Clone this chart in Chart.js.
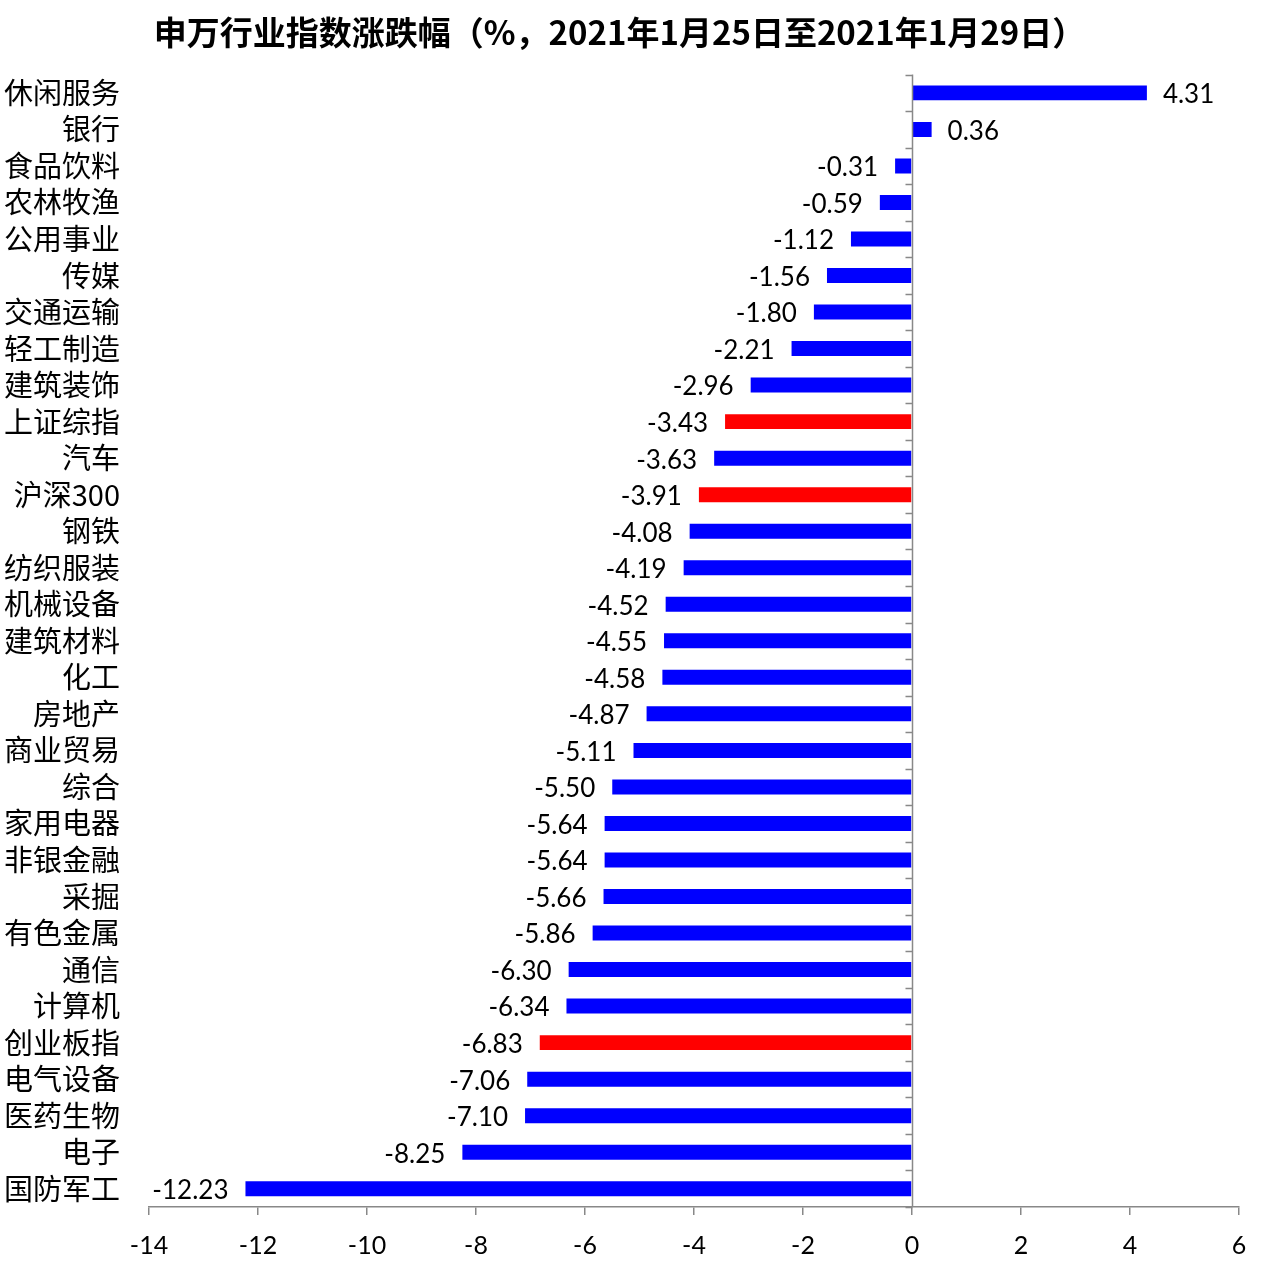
<!DOCTYPE html>
<html>
<head>
<meta charset="utf-8">
<script src="https://cdn.jsdelivr.net/npm/chart.js@4"></script>
<style>
  html, body { margin: 0; padding: 0; background: #fff; }
  #wrap { width: 1267px; height: 1275px; }
</style>
</head>
<body>
<div id="wrap"><canvas id="c"></canvas></div>
<script>
// 数据
const industries = ['休闲服务', '银行', '食品饮料', '农林牧渔', '公用事业', '传媒', '交通运输', '轻工制造',
    '建筑装饰', '上证综指', '汽车', '沪深300', '钢铁', '纺织服装', '机械设备', '建筑材料', '化工',
    '房地产', '商业贸易', '综合', '家用电器', '非银金融', '采掘', '有色金属', '通信', '计算机',
    '创业板指', '电气设备', '医药生物', '电子', '国防军工'];
const changes = [4.31, 0.36, -0.31, -0.59, -1.12, -1.56, -1.80, -2.21, -2.96, -3.43, -3.63, -3.91,
    -4.08, -4.19, -4.52, -4.55, -4.58, -4.87, -5.11, -5.50, -5.64, -5.64, -5.66, -5.86, -6.30,
    -6.34, -6.83, -7.06, -7.10, -8.25, -12.23];
const indexNames = ['上证综指', '沪深300', '创业板指'];
const xMin = -14, xMax = 6, xStep = 2;

const barColors = industries.map(n => indexNames.includes(n) ? '#FF0000' : '#0000FF');

const numFont = 'Lato, "Open Sans", sans-serif';
const cjkFont = '"Noto Sans CJK SC", sans-serif';

// 数值标签
const valueLabels = {
    id: 'valueLabels',
    afterDatasetsDraw(chart) {
        const ctx = chart.ctx;
        const meta = chart.getDatasetMeta(0);
        ctx.save();
        ctx.font = '26px ' + numFont;
        ctx.fillStyle = '#000';
        ctx.textBaseline = 'middle';
        meta.data.forEach((bar, i) => {
            const v = changes[i];
            const txt = v.toFixed(2);
            if (v >= 0) {
                ctx.textAlign = 'left';
                ctx.fillText(txt, bar.x + 16, bar.y + 2);
            } else {
                ctx.textAlign = 'right';
                ctx.fillText(txt, bar.x - 17, bar.y + 2);
            }
        });
        ctx.restore();
    }
};

// 零轴 + 刻度
const zeroAxis = {
    id: 'zeroAxis',
    afterDraw(chart) {
        const ctx = chart.ctx;
        const x0 = Math.round(chart.scales.x.getPixelForValue(0)) + 0.5;
        const area = chart.chartArea;
        const n = industries.length;
        const step = (area.bottom - area.top) / n;
        ctx.save();
        ctx.strokeStyle = '#888';
        ctx.lineWidth = 1.5;
        ctx.beginPath();
        ctx.moveTo(x0, area.top);
        ctx.lineTo(x0, area.bottom);
        for (let i = 0; i <= n; i++) {
            const y = Math.round(area.top + i * step) + 0.5;
            ctx.moveTo(x0 - 7, y);
            ctx.lineTo(x0, y);
        }
        ctx.stroke();
        ctx.restore();
    }
};

new Chart(document.getElementById('c'), {
    type: 'bar',
    data: {
        labels: industries,
        datasets: [{
            data: changes,
            backgroundColor: barColors,
            barPercentage: 0.82,
            categoryPercentage: 0.5
        }]
    },
    options: {
        indexAxis: 'y',
        responsive: true,
        maintainAspectRatio: false,
        animation: false,
        layout: { padding: { left: 0, right: 28, top: 0, bottom: 0 } },
        plugins: {
            legend: { display: false },
            tooltip: { enabled: false },
            title: {
                display: true,
                text: '申万行业指数涨跌幅（%，2021年1月25日至2021年1月29日）',
                color: '#000',
                font: { family: cjkFont, size: 33, weight: 'bold' },
                padding: { top: 13, bottom: 22 }
            }
        },
        scales: {
            x: {
                min: xMin,
                max: xMax,
                ticks: {
                    stepSize: xStep,
                    color: '#000',
                    font: { family: numFont, size: 25 },
                    padding: 16
                },
                grid: {
                    drawOnChartArea: false,
                    drawTicks: true,
                    tickLength: 8,
                    color: '#888',
                    lineWidth: 1.5
                },
                border: { display: true, color: '#888', width: 1.5 },
                afterFit(scale) { scale.height = 68; }
            },
            y: {
                ticks: {
                    color: '#000',
                    font: { family: cjkFont, size: 29 },
                    padding: 29,
                    autoSkip: false
                },
                grid: { display: false, drawTicks: false },
                border: { display: false },
                afterFit(scale) { scale.width = 149; }
            }
        }
    },
    plugins: [valueLabels, zeroAxis]
});
</script>
</body>
</html>
